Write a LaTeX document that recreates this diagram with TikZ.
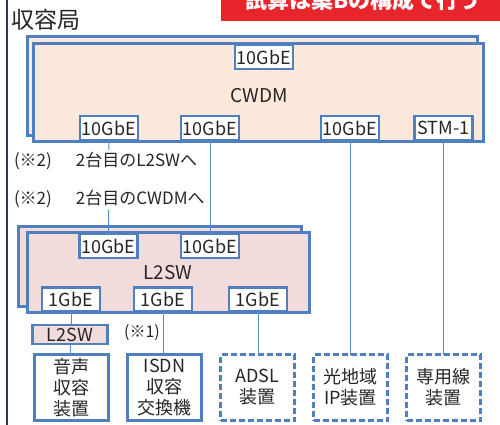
\documentclass[tikz,border=0pt]{standalone}
\usepackage{fontspec}
\setmainfont{Noto Sans CJK JP}
\begin{document}
\begin{tikzpicture}[x=1pt,y=-1pt,
  every node/.style={inner sep=0pt, outer sep=0pt},
  port/.style={draw=boxblue, line width=2.6pt, fill=white, minimum width=58pt, minimum height=24pt, font=\fontsize{18}{20}\selectfont, text=black!85},
  bigbox/.style={draw=boxblue, line width=2.4pt, anchor=north west},
  dev/.style={draw=boxblue, line width=2.8pt, fill=white, minimum width=74pt, minimum height=66pt, align=center, font=\fontsize{18}{21}\selectfont, text=black!85},
  devdash/.style={dev, dash pattern=on 6pt off 3pt},
  conn/.style={draw=lineblue, line width=1pt}
]
\definecolor{boxblue}{HTML}{4F7FBE}
\definecolor{lineblue}{HTML}{5B8AC8}
\definecolor{peach}{HTML}{FDE9DB}
\definecolor{pinkf}{HTML}{F2DCDB}
\definecolor{navy}{HTML}{203864}
\definecolor{bannerred}{HTML}{E8252A}
\useasboundingbox (0,0) rectangle (500,425);
\clip (0,0) rectangle (500,425);

% left border line
\draw[navy, line width=2pt] (6.5,0) -- (6.5,425);

% banner
\node[fill=bannerred, minimum width=280pt, minimum height=22pt, anchor=north west] (banner) at (221,-1) {};
\node[text=white, font=\fontsize{22}{22}\selectfont\bfseries, anchor=base] (bannertext) at (363,9) {試算は案Bの構成で行う};

% title
\node[anchor=west, font=\fontsize{23}{24}\selectfont, text=black!85] (title) at (11,20) {収容局};

% CWDM
\node[bigbox, fill=peach, minimum width=450pt, minimum height=99pt] (cwdmback) at (27.5,36.5) {};
\node[bigbox, fill=peach, minimum width=450pt, minimum height=98pt] (cwdmfront) at (33.5,43.5) {};
\node[port] (p0) at (264,57) {10GbE};
\node[font=\fontsize{19}{20}\selectfont, text=black!85] (cwdmlabel) at (259,96) {CWDM};
\node[port] (p1) at (109,128) {10GbE};
\node[port] (p2) at (210,128) {10GbE};
\node[port] (p3) at (350,128) {10GbE};
\node[port] (p4) at (443.5,128) {STM-1};

% L2SW
\node[bigbox, fill=pinkf, minimum width=283pt, minimum height=80pt] (l2back) at (18.5,226.5) {};
\node[bigbox, fill=pinkf, minimum width=282pt, minimum height=80pt] (l2front) at (27.5,232.5) {};
\node[port] (t1) at (108.5,246) {10GbE};
\node[port] (t2) at (210,246) {10GbE};
\node[font=\fontsize{19}{20}\selectfont, text=black!85] (l2label) at (168,273) {L2SW};
\node[port] (b1) at (71,299.5) {1GbE};
\node[port] (b2) at (163,299.5) {1GbE};
\node[port] (b3) at (258,299.5) {1GbE};

% connector 1 (under notes)
\draw[conn] (p1.south) -- (t1.north);

% notes
\node[anchor=north west, fill=white, inner sep=2pt, align=left, font=\fontsize{17}{38}\selectfont, text=black!85] (notes) at (12,150) {(※2)\hspace{24pt}2台目のL2SWへ\\(※2)\hspace{24pt}2台目のCWDMへ};

\draw[conn] (p2.south) -- (t2.north);

% small L2SW
\node[draw=boxblue, line width=2.6pt, fill=pinkf, minimum width=75pt, minimum height=19pt, font=\fontsize{18}{20}\selectfont, text=black!85] (sm) at (70,334.5) {L2SW};
\node[font=\fontsize{16}{18}\selectfont, text=black!85] (note1) at (142,333) {(※1)};

% devices
\node[dev] (d1) at (71.5,387.5) {音声\\収容\\装置};
\node[dev] (d2) at (164.5,387.5) {ISDN\\収容\\交換機};
\node[devdash] (d3) at (257.5,387.5) {ADSL\\装置};
\node[devdash] (d4) at (350.5,387.5) {光地域\\IP装置};
\node[devdash] (d5) at (443.5,387.5) {専用線\\装置};

% connectors
\draw[conn] (b1.south) -- (b1.south |- sm.north);
\draw[conn] (sm.south) -- (sm.south |- d1.north);
\draw[conn] (b2.south) -- (b2.south |- d2.north);
\draw[conn] (b3.south) -- (b3.south |- d3.north);
\draw[conn] (p3.south) -- (p3.south |- d4.north);
\draw[conn] (p4.south) -- (p4.south |- d5.north);
\end{tikzpicture}
\end{document}
